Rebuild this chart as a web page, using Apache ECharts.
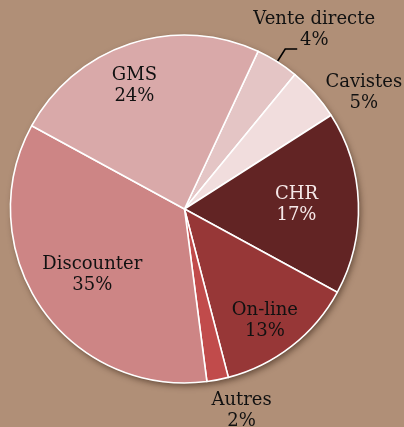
<!DOCTYPE html>
<html><head><meta charset="utf-8">
<script src="https://cdn.jsdelivr.net/npm/echarts@6/dist/echarts.min.js"></script>
<style>html,body{margin:0;padding:0;background:#b08f77;}#c{width:404px;height:427px;}</style>
</head><body><div id="c"></div>
<script>
// Data
const categories = ['Vente directe', 'Cavistes', 'CHR', 'On-line', 'Autres', 'Discounter', 'GMS'];
const shares = [4, 5, 17, 13, 2, 35, 24];
// Styles
const colors = ['#e4c5c5', '#f1dddd', '#622424', '#973737', '#c14b4b', '#cd8585', '#d9a9a9'];
const labelColors = ['#111', '#111', '#f6e8e8', '#111', '#111', '#111', '#111'];
const labelPos = ['outside', 'outside', 'inside', 'inside', 'outside', 'inside', 'inside'];
const showLine = [true, false, false, false, false, false, false];
const labelShift = [[12, -19], [21, 9], [22, -1], [25, 41], [4, 16], [-18, 15], [-22, -38]];

const chart = echarts.init(document.getElementById('c'));
const data = categories.map((c, i) => ({
  name: c,
  value: shares[i],
  itemStyle: { color: colors[i] },
  label: { position: labelPos[i], color: labelColors[i] },
  labelLine: { lineStyle: { color: showLine[i] ? '#000' : 'rgba(0,0,0,0)' } }
}));
chart.setOption({
  backgroundColor: '#b08f77',
  animation: false,
  series: [
    {
      type: 'pie', silent: true, center: [184.5, 209], radius: 174,
      data: [{ value: 1, itemStyle: { color: '#fff' } }],
      label: { show: false }, labelLine: { show: false },
      itemStyle: { shadowBlur: 6, shadowOffsetX: 2, shadowOffsetY: 3, shadowColor: 'rgba(40,20,10,0.55)' }
    },
    {
      type: 'pie', center: [184.5, 209], radius: 174, startAngle: 65, clockwise: true,
      avoidLabelOverlap: false, silent: true,
      data: data,
      itemStyle: { borderColor: '#fff', borderWidth: 1.6 },
      label: {
        fontFamily: 'DejaVu Serif', fontSize: 18, lineHeight: 21,
        formatter: p => p.name + '\n' + p.value + '%'
      },
      labelLine: { show: true, length: 15, length2: 12, lineStyle: { width: 1.6 } },
      labelLayout: function (p) {
        const s = labelShift[p.dataIndex];
        const r = { dx: s[0], dy: s[1], align: 'center', verticalAlign: 'middle' };
        if (p.labelLinePoints) r.labelLinePoints = p.labelLinePoints;
        return r;
      }
    }
  ]
});
</script></body></html>
